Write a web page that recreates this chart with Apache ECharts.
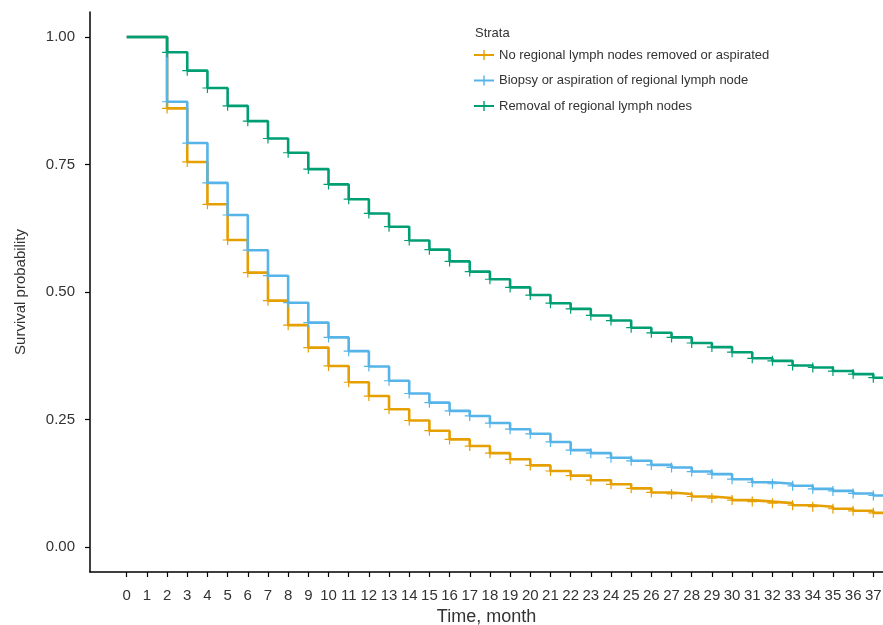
<!DOCTYPE html>
<html>
<head>
<meta charset="utf-8">
<title>Survival by regional lymph node surgery</title>
<script src="https://cdn.jsdelivr.net/npm/echarts@6/dist/echarts.min.js"></script>
<style>
  html, body { margin: 0; padding: 0; background: #fff; }
  #chart { width: 883px; height: 625px; }
</style>
</head>
<body>
<div id="chart"></div>
<script>
// Follow-up months (0..37) and Kaplan-Meier survival estimates per stratum
const months = [0,1,2,3,4,5,6,7,8,9,10,11,12,13,14,15,16,17,18,19,20,21,22,23,24,25,26,27,28,29,30,31,32,33,34,35,36,37];
const followUpEnd = 37.48;

const strataNames = [
  'No regional lymph nodes removed or aspirated',
  'Biopsy or aspiration of regional lymph node',
  'Removal of regional lymph nodes'
];

const survNoSurgery = [1.000,1.000,0.860,0.755,0.672,0.602,0.538,0.483,0.435,0.391,0.355,0.323,0.296,0.270,0.248,0.228,0.211,0.198,0.184,0.172,0.160,0.149,0.140,0.131,0.123,0.115,0.107,0.104,0.099,0.096,0.092,0.089,0.086,0.082,0.079,0.075,0.071,0.067];
const survBiopsy    = [1.000,1.000,0.873,0.792,0.714,0.651,0.582,0.532,0.479,0.440,0.411,0.384,0.354,0.326,0.301,0.283,0.267,0.257,0.243,0.231,0.222,0.206,0.190,0.184,0.175,0.169,0.161,0.156,0.148,0.143,0.133,0.127,0.124,0.120,0.114,0.110,0.105,0.101];
const survRemoval   = [1.000,1.000,0.970,0.934,0.900,0.865,0.835,0.801,0.773,0.741,0.711,0.682,0.654,0.628,0.601,0.583,0.560,0.540,0.525,0.509,0.494,0.478,0.467,0.454,0.444,0.430,0.420,0.411,0.400,0.392,0.382,0.370,0.365,0.356,0.352,0.345,0.339,0.332];

// First month carrying a censoring mark
const firstCensorMonth = 2;

const yTicks = [0, 0.25, 0.5, 0.75, 1];
const yTickLabels = ['0.00', '0.25', '0.50', '0.75', '1.00'];

const colors = ['#E69F00', '#56B4E9', '#009E73'];
const FONT = '"Liberation Sans", Arial, Helvetica, sans-serif';
const TEXT = '#333333';

const plusPath = 'path://M4.4,0h1.2v4.4h4.4v1.2h-4.4v4.4h-1.2v-4.4h-4.4v-1.2h4.4z';
const legendIcon = 'path://M0,4.1h20v1.8h-20zM9.3,0h1.4v10h-1.4z';

function curve(values) {
  const pts = months.map((m, i) => [m, values[i]]);
  pts.push([followUpEnd, values[values.length - 1]]);
  return pts;
}

function kmSeries(name, values, color) {
  return {
    name: name,
    type: 'line',
    step: 'end',
    data: curve(values),
    showSymbol: true,
    showAllSymbol: true,
    symbol: (v) => (v[0] >= firstCensorMonth && v[0] <= months[months.length - 1]) ? plusPath : 'none',
    symbolSize: 10,
    itemStyle: { color: color },
    lineStyle: { color: color, width: 2.6 },
    emphasis: { disabled: true },
    animation: false,
    clip: true
  };
}

const chart = echarts.init(document.getElementById('chart'), null, { renderer: 'canvas' });

chart.setOption({
  backgroundColor: '#ffffff',
  animation: false,
  textStyle: { fontFamily: FONT },
  title: {
    text: 'Strata',
    left: 475,
    top: 27,
    padding: 0,
    textStyle: { fontFamily: FONT, fontSize: 13, fontWeight: 'normal', color: TEXT }
  },
  legend: {
    data: strataNames,
    orient: 'vertical',
    left: 474,
    top: 48,
    padding: 0,
    itemGap: 11.5,
    itemWidth: 20,
    itemHeight: 10,
    icon: legendIcon,
    textStyle: { fontFamily: FONT, fontSize: 13, color: TEXT, lineHeight: 14, padding: [0, 0, 0, 0] },
    selectedMode: false
  },
  grid: { left: 90, right: 0, top: 12, bottom: 53, containLabel: false, outerBoundsMode: 'none' },
  xAxis: {
    type: 'value',
    min: -1.82,
    max: followUpEnd,
    name: 'Time, month',
    nameLocation: 'middle',
    nameGap: 35,
    nameTextStyle: { fontFamily: FONT, fontSize: 18, color: TEXT },
    splitLine: { show: false },
    axisLine: { show: true, onZero: false, lineStyle: { color: '#000', width: 1.5 } },
    axisTick: { show: true, length: 5, customValues: months, lineStyle: { color: '#000', width: 1.2 } },
    axisLabel: { customValues: months, margin: 16, fontFamily: FONT, fontSize: 15, color: TEXT, hideOverlap: false }
  },
  yAxis: {
    type: 'value',
    min: -0.049,
    max: 1.049,
    name: 'Survival probability',
    nameLocation: 'middle',
    nameGap: 62,
    nameRotate: 90,
    nameTextStyle: { fontFamily: FONT, fontSize: 15, color: TEXT },
    splitLine: { show: false },
    axisLine: { show: true, onZero: false, lineStyle: { color: '#000', width: 1.5 } },
    axisTick: { show: true, length: 5, customValues: yTicks, lineStyle: { color: '#000', width: 1.2 } },
    axisLabel: {
      customValues: yTicks,
      margin: 15,
      fontFamily: FONT,
      fontSize: 15,
      color: TEXT,
      formatter: (v) => yTickLabels[yTicks.indexOf(v)] ?? v.toFixed(2)
    }
  },
  series: [
    kmSeries(strataNames[0], survNoSurgery, colors[0]),
    kmSeries(strataNames[1], survBiopsy, colors[1]),
    kmSeries(strataNames[2], survRemoval, colors[2])
  ]
});
</script>
</body>
</html>
